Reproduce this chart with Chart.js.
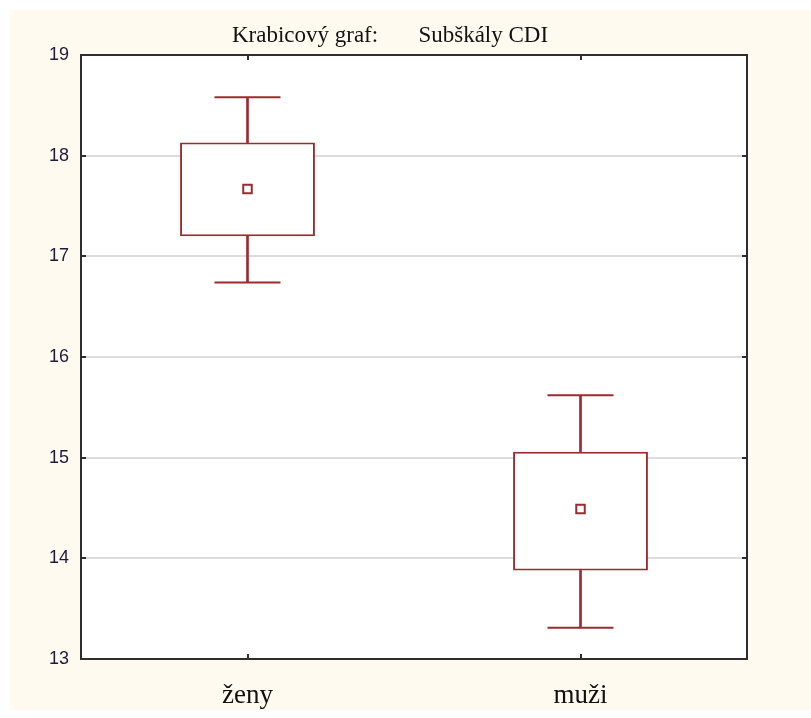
<!DOCTYPE html>
<html>
<head>
<meta charset="utf-8">
<script src="https://cdn.jsdelivr.net/npm/chart.js@4"></script>
<style>
html,body{margin:0;padding:0;background:#ffffff;}
canvas{display:block;}
</style>
</head>
<body>
<canvas id="c" width="811" height="718"></canvas>
<script>
// ---- data ----
const categories = ['ženy', 'muži'];
const whiskerMin = [16.74, 13.31];
const boxQ1 = [17.20, 13.88];
const meanVals = [17.67, 14.49];
const boxQ3 = [18.13, 15.06];
const whiskerMax = [18.58, 15.62];
const yTicks = [13, 14, 15, 16, 17, 18, 19];
const titleText = 'Krabicový graf:       Subškály CDI';

const RED = '#9c2b2f';
const FRAME = '#2e2e2e';

const boxData = categories.map((c, i) => [boxQ1[i], boxQ3[i]]);
const upperStem = categories.map((c, i) => [boxQ3[i], whiskerMax[i]]);
const lowerStem = categories.map((c, i) => [whiskerMin[i], boxQ1[i]]);

const bgPlugin = {
  id: 'bg',
  beforeDraw(chart) {
    const ctx = chart.ctx;
    ctx.save();
    ctx.fillStyle = '#ffffff';
    ctx.fillRect(0, 0, chart.width, chart.height);
    ctx.fillStyle = '#fffaf0';
    ctx.fillRect(10, 10, chart.width - 10, chart.height - 18);
    const a = chart.chartArea;
    ctx.fillStyle = '#ffffff';
    ctx.fillRect(a.left, a.top, a.right - a.left, a.bottom - a.top);
    ctx.restore();
  },
  afterDraw(chart) {
    const ctx = chart.ctx;
    const a = chart.chartArea;
    const ys = chart.scales.y, xs = chart.scales.x;
    ctx.save();
    ctx.strokeStyle = FRAME;
    ctx.lineWidth = 2;
    ctx.strokeRect(a.left, a.top, a.right - a.left, a.bottom - a.top);
    ctx.beginPath();
    ys.ticks.forEach((t, i) => {
      const y = Math.round(ys.getPixelForTick(i));
      ctx.moveTo(a.left, y); ctx.lineTo(a.left + 5, y);
      ctx.moveTo(a.right, y); ctx.lineTo(a.right - 5, y);
    });
    xs.ticks.forEach((t, i) => {
      const x = Math.round(xs.getPixelForTick(i));
      ctx.moveTo(x, a.top); ctx.lineTo(x, a.top + 5);
      ctx.moveTo(x, a.bottom); ctx.lineTo(x, a.bottom - 5);
    });
    ctx.stroke();
    ctx.restore();
  }
};

new Chart(document.getElementById('c'), {
  type: 'bar',
  data: {
    labels: categories,
    datasets: [
      {
        type: 'line',
        label: 'mean',
        data: meanVals,
        showLine: false,
        pointStyle: 'rect',
        pointRadius: 6,
        pointBorderWidth: 2,
        pointBorderColor: RED,
        pointBackgroundColor: '#ffffff',
        order: 0
      },
      {
        label: 'box',
        data: boxData,
        backgroundColor: '#ffffff',
        borderColor: RED,
        borderWidth: 2,
        borderSkipped: false,
        grouped: false,
        barPercentage: 0.405,
        categoryPercentage: 1,
        order: 1
      },
      {
        label: 'upperStem',
        data: upperStem,
        backgroundColor: RED,
        borderWidth: 0,
        grouped: false,
        barThickness: 2,
        order: 2
      },
      {
        label: 'lowerStem',
        data: lowerStem,
        backgroundColor: RED,
        borderWidth: 0,
        grouped: false,
        barThickness: 2,
        order: 2
      },
      {
        type: 'line',
        label: 'capMax',
        data: whiskerMax,
        showLine: false,
        pointStyle: 'line',
        pointRadius: 33,
        pointBorderWidth: 2,
        pointBorderColor: RED,
        order: 2
      },
      {
        type: 'line',
        label: 'capMin',
        data: whiskerMin,
        showLine: false,
        pointStyle: 'line',
        pointRadius: 33,
        pointBorderWidth: 2,
        pointBorderColor: RED,
        order: 2
      }
    ]
  },
  options: {
    responsive: false,
    animation: false,
    layout: { padding: { left: 33, right: 64, top: 0, bottom: 0 } },
    plugins: {
      legend: { display: false },
      tooltip: { enabled: false },
      title: {
        display: true,
        text: titleText,
        color: '#111111',
        font: { family: '"Liberation Serif", "Times New Roman", serif', size: 23, weight: 'normal', lineHeight: 1.2 },
        padding: { top: 22, bottom: 5.4 }
      }
    },
    scales: {
      x: {
        grid: { display: false, drawTicks: false },
        border: { display: false },
        offset: true,
        ticks: {
          color: '#111111',
          padding: 21,
          font: { family: '"Liberation Serif", "Times New Roman", serif', size: 27 }
        },
        afterFit(s) { s.height = 59; }
      },
      y: {
        min: 13,
        max: 19,
        afterBuildTicks(s) { s.ticks = yTicks.map(v => ({ value: v })); },
        grid: { color: '#dcdcdc', lineWidth: 2, drawTicks: false },
        border: { display: false },
        ticks: {
          color: '#1c1c3a',
          padding: 12,
          font: { family: '"Liberation Sans", Arial, sans-serif', size: 18 }
        },
        afterFit(s) { s.width = 48; }
      }
    }
  },
  plugins: [bgPlugin]
});
</script>
</body>
</html>
